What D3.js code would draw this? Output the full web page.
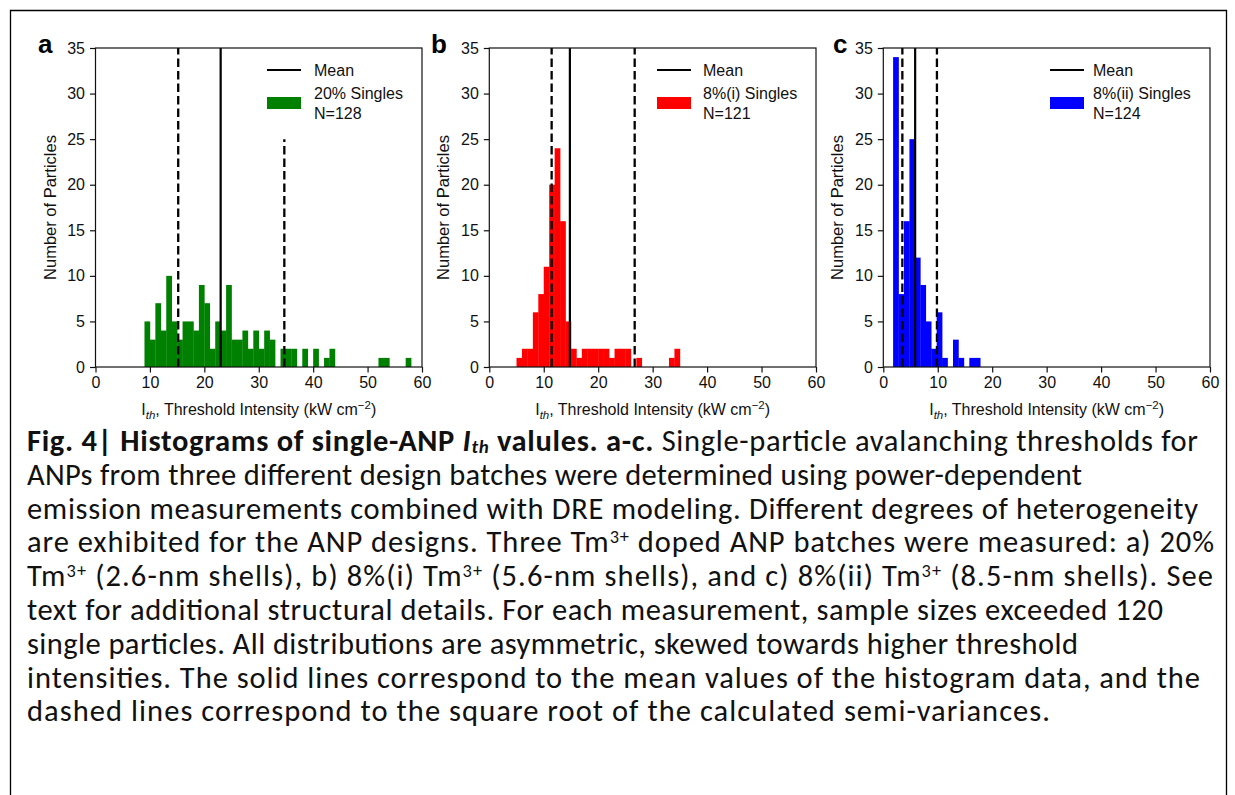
<!DOCTYPE html>
<html><head><meta charset="utf-8">
<script src="https://cdn.jsdelivr.net/npm/d3@7"></script>
<style>body{margin:0;background:#fff}svg{display:block}</style>
</head><body><svg id="fig" width="1235" height="795"></svg>
<script>
// ---- data ----
const panelLetters = ["a", "b", "c"];
const seriesNames = ["20% Singles", "8%(i) Singles", "8%(ii) Singles"];
const sampleSizes = ["N=128", "N=121", "N=124"];
const barColors = ["#008000", "#ff0000", "#0000ff"];
const binWidth = 1;
const binStartA = 9;
const countsA = [5,3,7,4,10,5,3,5,5,4,9,7,2,5,4,9,3,3,4,2,4,2,4,3,0,2,2,2,0,2,0,2,0,1,2,0,0,0,0,0,0,0,0,1,1,0,0,0,1];
const binStartB = 5;
const countsB = [1,2,2,6,8,11,20,24,16,5,2,1,2,2,2,2,2,1,2,2,2,0,1,0,0,0,0,0,1,2];
const binStartC = 1.8;
const countsC = [34,8,16,25,12,9,5,2,6,1,0,3,1,0,1,1];
const meanValues = [23.0, 14.8, 5.85];
const lowerSemi = [15.2, 11.45, 3.5];
const upperSemi = [34.7, 26.7, 9.85];
const upperSemiTop = [25, 35, 35];
const xTicks = [0, 10, 20, 30, 40, 50, 60];
const yTicks = [0, 5, 10, 15, 20, 25, 30, 35];
const xDomain = [0, 60];
const yDomain = [0, 35];
const yLabel = "Number of Particles";
const legendMean = "Mean";

const binStarts = [binStartA, binStartB, binStartC];
const countsAll = [countsA, countsB, countsC];

// ---- layout ----
const svg = d3.select("#fig");
const axFont = "'Liberation Sans', Arial, sans-serif";
const fs = 16;
const panels = [
  {left: 95.5, right: 422, legX: 267, legText: 314, letterX: 38},
  {left: 489.3, right: 816, legX: 657, legText: 703, letterX: 431},
  {left: 883.3, right: 1210, legX: 1050, legText: 1093, letterX: 833}
];
const plotTop = 48, plotBottom = 367;

// frame around figure
svg.append("path").attr("d", "M10.5,795 L10.5,10.5 L1226.5,10.5 L1226.5,795")
  .attr("fill", "none").attr("stroke", "#000").attr("stroke-width", 1.3);

panels.forEach((p, i) => {
  const x = d3.scaleLinear().domain(xDomain).range([p.left, p.right]);
  const y = d3.scaleLinear().domain(yDomain).range([plotBottom, plotTop]);
  const g = svg.append("g");
  const bins = countsAll[i].map((c, k) => ({x0: binStarts[i] + k * binWidth, x1: binStarts[i] + (k + 1) * binWidth, c}));
  g.selectAll("rect.bar").data(bins.filter(d => d.c > 0)).join("rect")
    .attr("class", "bar")
    .attr("x", d => x(d.x0)).attr("width", d => x(d.x1) - x(d.x0) + 0.3)
    .attr("y", d => y(d.c)).attr("height", d => y(0) - y(d.c))
    .attr("fill", barColors[i]);

  // lines
  g.append("line").attr("x1", x(meanValues[i])).attr("x2", x(meanValues[i]))
    .attr("y1", y(0)).attr("y2", y(35)).attr("stroke", "#000").attr("stroke-width", 2.2);
  [[lowerSemi[i], 35], [upperSemi[i], upperSemiTop[i]]].forEach(([v, t]) => {
    g.append("line").attr("x1", x(v)).attr("x2", x(v))
      .attr("y1", y(0)).attr("y2", y(t)).attr("stroke", "#000").attr("stroke-width", 2.3)
      .attr("stroke-dasharray", "8.5,4");
  });

  // axes
  const xa = g.append("g").attr("transform", `translate(0,${plotBottom})`)
    .call(d3.axisBottom(x).tickValues(xTicks).tickSize(5.5).tickPadding(4));
  const ya = g.append("g").attr("transform", `translate(${p.left},0)`)
    .call(d3.axisLeft(y).tickValues(yTicks).tickSize(5.5).tickPadding(5));
  [xa, ya].forEach(a => {
    a.select(".domain").remove();
    a.selectAll("text").attr("font-family", axFont).attr("font-size", fs).attr("fill", "#111");
    a.selectAll("line").attr("stroke", "#111").attr("stroke-width", 1.2);
  });
  g.append("rect").attr("x", p.left).attr("y", plotTop).attr("width", p.right - p.left).attr("height", plotBottom - plotTop)
    .attr("fill", "none").attr("stroke", "#111").attr("stroke-width", 1.2);

  // axis labels
  const xl = g.append("text").attr("x", (p.left + p.right) / 2).attr("y", 415)
    .attr("text-anchor", "middle").attr("font-family", axFont).attr("font-size", fs).attr("fill", "#111");
  xl.append("tspan").text("I");
  xl.append("tspan").text("th").attr("font-style", "italic").attr("font-size", 11.5).attr("dy", 3.5);
  xl.append("tspan").text(", Threshold Intensity (kW cm").attr("dy", -3.5);
  xl.append("tspan").text("\u22122").attr("font-size", 11.5).attr("dy", -6.5);
  xl.append("tspan").text(")").attr("dy", 6.5);

  g.append("text").attr("transform", `translate(${p.left - 40},${(plotTop + plotBottom) / 2}) rotate(-90)`)
    .attr("text-anchor", "middle").attr("font-family", axFont).attr("font-size", 16.5).attr("fill", "#111")
    .text(yLabel);

  // panel letter
  g.append("text").attr("x", p.letterX).attr("y", 53).attr("font-family", axFont)
    .attr("font-weight", "bold").attr("font-size", 26).text(panelLetters[i]);

  // legend
  g.append("line").attr("x1", p.legX).attr("x2", p.legX + 34).attr("y1", 70).attr("y2", 70)
    .attr("stroke", "#000").attr("stroke-width", 2.2);
  g.append("text").attr("x", p.legText).attr("y", 75.5).attr("font-family", axFont).attr("font-size", fs)
    .attr("fill", "#111").text(legendMean);
  g.append("rect").attr("x", p.legX).attr("y", 97).attr("width", 34).attr("height", 12).attr("fill", barColors[i]);
  g.append("text").attr("x", p.legText).attr("y", 98.5).attr("font-family", axFont).attr("font-size", fs)
    .attr("fill", "#111").text(seriesNames[i]);
  g.append("text").attr("x", p.legText).attr("y", 118.5).attr("font-family", axFont).attr("font-size", fs)
    .attr("fill", "#111").text(sampleSizes[i]);
});

// ---- caption ----
const capFont = "Carlito, Lato, 'Open Sans', sans-serif";
const capSize = 30.5;
const capX = 27, capY0 = 451, capDy = 33.8;
const sup = (t) => ({t, sup: true});
const captionLines = [
  [{t: "Fig. 4| Histograms of single-ANP ", b: true}, {t: "I", b: true, i: true}, {t: "th", b: true, i: true, sub: true}, {t: " valules. a-c.", b: true}, {t: " Single-particle avalanching thresholds for"}],
  [{t: "ANPs from three different design batches were determined using power-dependent"}],
  [{t: "emission measurements combined with DRE modeling. Different degrees of heterogeneity"}],
  [{t: "are exhibited for the ANP designs. Three Tm"}, sup("3+"), {t: " doped ANP batches were measured: a) 20%"}],
  [{t: "Tm"}, sup("3+"), {t: " (2.6-nm shells), b) 8%(i) Tm"}, sup("3+"), {t: " (5.6-nm shells), and c) 8%(ii) Tm"}, sup("3+"), {t: " (8.5-nm shells). See"}],
  [{t: "text for additional structural details. For each measurement, sample sizes exceeded 120"}],
  [{t: "single particles. All distributions are asymmetric, skewed towards higher threshold"}],
  [{t: "intensities. The solid lines correspond to the mean values of the histogram data, and the"}],
  [{t: "dashed lines correspond to the square root of the calculated semi-variances."}]
];
const captionWidths = [1171, 1055, 1171, 1187, 1186, 1136, 1051, 1173, 1023];
captionLines.forEach((segs, li) => {
  const txt = svg.append("text").attr("x", capX).attr("y", capY0 + li * capDy)
    .attr("font-family", capFont).attr("font-size", capSize).attr("fill", "#111")
    .attr("textLength", captionWidths[li]).attr("lengthAdjust", "spacing");
  let shift = 0;
  segs.forEach(s => {
    const ts = txt.append("tspan").text(s.t);
    if (s.b) ts.attr("font-weight", "bold");
    if (s.i) ts.attr("font-style", "italic");
    let target = 0;
    if (s.sup) { target = -9; ts.attr("font-size", capSize * 0.6); }
    if (s.sub) { target = 1.5; ts.attr("font-size", capSize * 0.62); }
    if (target !== shift) { ts.attr("dy", target - shift); shift = target; }
  });
});
</script>
</body></html>
